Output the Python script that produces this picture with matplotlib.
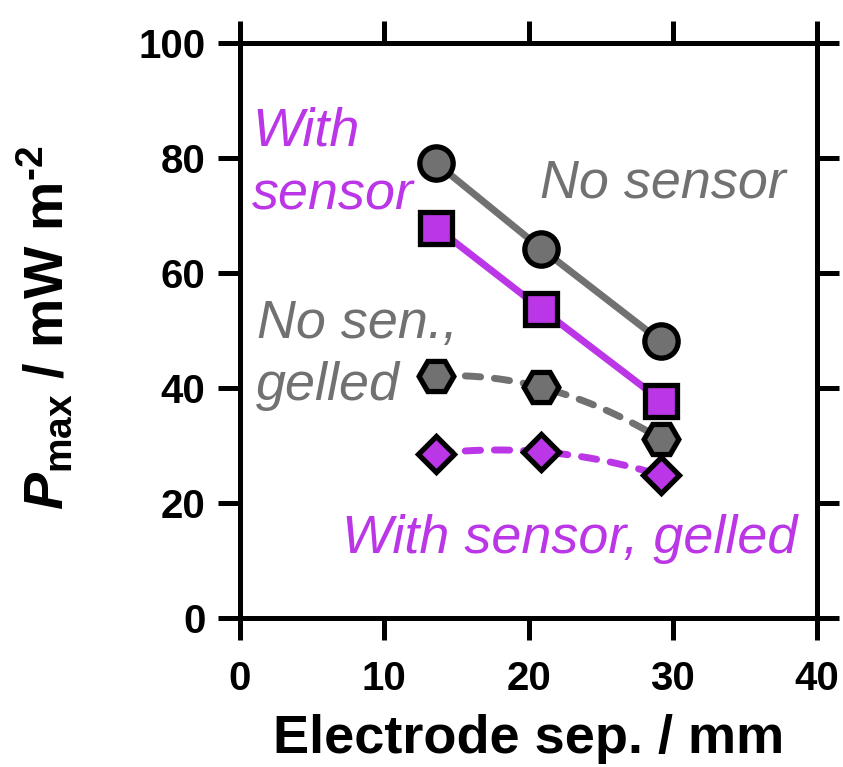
import numpy as np
import matplotlib
matplotlib.use("Agg")
import matplotlib.pyplot as plt

plt.rcParams['font.family'] = ['Liberation Sans', 'DejaVu Sans']
plt.rcParams['mathtext.fontset'] = 'custom'
plt.rcParams['mathtext.rm'] = 'Liberation Sans:bold'
plt.rcParams['mathtext.it'] = 'Liberation Sans:italic:bold'
plt.rcParams['mathtext.bf'] = 'Liberation Sans:bold'

# data
sep = [13.6, 20.9, 29.2]
no_sensor = [79.1, 64.2, 48.1]
with_sensor = [67.9, 53.7, 37.8]
no_sensor_gelled = [42.1, 40.1, 31.1]
with_sensor_gelled = [28.6, 28.9, 24.8]

xticks = [0, 10, 20, 30, 40]
yticks = [0, 20, 40, 60, 80, 100]

GRAY = '#717171'
PURPLE = '#BB36E6'

fig = plt.figure(figsize=(8.43, 7.67), dpi=100)
ax = fig.add_axes([240/843, 149/767, 577/843, 575/767])

lw = 5
mew = 3.8
ax.plot(sep, no_sensor, '-', color=GRAY, lw=lw, marker='o', ms=24,
        mfc=GRAY, mec='black', mew=mew, zorder=5)
ax.plot(sep, with_sensor, '-', color=PURPLE, lw=lw, marker='s', ms=23,
        mfc=PURPLE, mec='black', mew=mew, zorder=5)

xs = np.linspace(sep[0], sep[-1], 100)
for ys, col, mk, ms in [(no_sensor_gelled, GRAY, 'H', 25),
                        (with_sensor_gelled, PURPLE, 'D', 18)]:
    c = np.polyfit(sep, ys, 2)
    ax.plot(xs, np.polyval(c, xs), color=col, lw=lw, dashes=(2.2, 2.0),
            dash_capstyle='round', zorder=3)
    ax.plot(sep, ys, ls='none', marker=mk, ms=ms, mfc=col, mec='black', mew=mew, zorder=6)

ax.set_xlim(0, 40)
ax.set_ylim(0, 100)
ax.set_xticks(xticks)
ax.set_yticks(yticks)
for s in ax.spines.values():
    s.set_linewidth(3.6)
ax.tick_params(which='both', direction='out', length=16, width=3.6,
               top=True, right=True, labelsize=29)
ax.tick_params(axis='y', pad=9)
ax.tick_params(axis='x', pad=14)
for lab in ax.get_xticklabels() + ax.get_yticklabels():
    lab.set_fontweight('bold')

ax.set_xlabel('Electrode sep. / mm', fontsize=39, fontweight='bold', labelpad=12)
ax.set_ylabel('$P_{\\mathrm{max}}$ / mW m$^{\\mathrm{\u20102}}$', fontsize=40,
              fontweight='bold')
ax.yaxis.set_label_coords(-0.285, 0.505)

tkw = dict(fontsize=38.8, style='italic', va='baseline', ha='left')
ax.text(0.85, (618-145)/5.75, 'With', color=PURPLE, **tkw)
ax.text(0.8, (618-210)/5.75, 'sensor', color=PURPLE, **tkw)
ax.text(20.8, (618-198)/5.75, 'No sensor', color=GRAY, **tkw)
ax.text(1.2, (618-338)/5.75, 'No sen.,', color=GRAY, **tkw)
ax.text(1.1, (618-400)/5.75, 'gelled', color=GRAY, **tkw)
ax.text(7.1, (618-553)/5.75, 'With sensor, gelled', color=PURPLE, **tkw)

fig.savefig('out.png', dpi=100)
